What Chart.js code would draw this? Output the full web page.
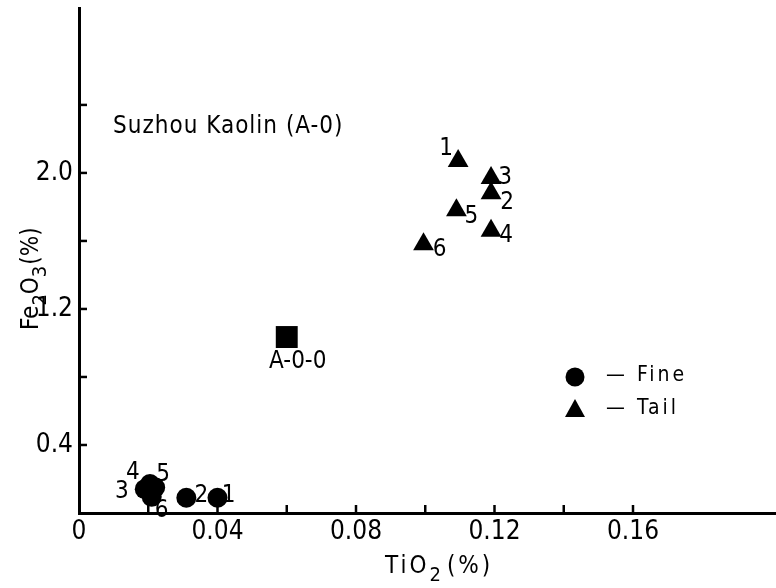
<!DOCTYPE html>
<html lang="en">
<head>
<meta charset="UTF-8">
<title>Suzhou Kaolin (A-0)</title>
<script src="https://cdn.jsdelivr.net/npm/chart.js"></script>
<style>
  body { margin: 0; background: #fff; }
  #grafico { display: block; }
</style>
</head>
<body>
<canvas id="grafico" width="776" height="588"></canvas>
<script>
// values (TiO2 %, Fe2O3 %)
var fineNames = ['1', '2', '3', '4', '5', '6'];
var fineTiO2 = [0.040, 0.031, 0.019, 0.0205, 0.022, 0.021];
var fineFe2O3 = [0.09, 0.09, 0.14, 0.17, 0.15, 0.095];

var tailNames = ['1', '2', '3', '4', '5', '6'];
var tailTiO2 = [0.1095, 0.119, 0.119, 0.119, 0.109, 0.0995];
var tailFe2O3 = [2.07, 1.88, 1.97, 1.66, 1.78, 1.58];

var rawNames = ['A-0-0'];
var rawTiO2 = [0.060];
var rawFe2O3 = [1.035];

var xTickValues = [0, 0.02, 0.04, 0.06, 0.08, 0.10, 0.12, 0.14, 0.16];
var xTickLabels = ['0', '', '0.04', '', '0.08', '', '0.12', '', '0.16'];
var yTickValues = [0.4, 0.8, 1.2, 1.6, 2.0, 2.4];
var yTickLabels = ['0.4', '', '1.2', '', '2.0', ''];

var FONT = '"DejaVu Sans Condensed", "DejaVu Sans", sans-serif';

function pontos(xs, ys) {
    var lista = [];
    for (var i = 0; i < xs.length; i++) {
        lista.push({ x: xs[i], y: ys[i] });
    }
    return lista;
}

// offsets of the little number labels next to each mark
var fineOffsets = [[11, -2], [15, -2], [-23, 3], [-17, -11], [8, -13], [10, 14]];
var tailOffsets = [[-12, -12], [16, 9], [14, 0], [15, 5], [15, 6], [16, 5]];
var rawOffsets = [[11, 25]];

function textoComIndice(ctx, partes, x, y, espaco) {
    // draws e.g. TiO + subscript 2 + (%) from a left baseline point
    var cx = x;
    ctx.letterSpacing = espaco + 'px';
    partes.forEach(function (p) {
        ctx.font = (p.sub ? '20px ' : '24px ') + FONT;
        ctx.fillText(p.t, cx, y + (p.sub ? 8 : 0));
        cx += ctx.measureText(p.t).width + (p.gap || 0);
    });
    ctx.letterSpacing = '0px';
}

var extras = {
    id: 'extras',
    afterDatasetsDraw: function (chart) {
        var ctx = chart.ctx;
        var xs = chart.scales.x, ys = chart.scales.y;
        var fundo = ys.getPixelForValue(0);
        var esquerda = xs.getPixelForValue(0);

        ctx.save();
        ctx.strokeStyle = '#000';
        ctx.fillStyle = '#000';
        ctx.lineWidth = 2.5;

        // inward tick marks
        xTickValues.forEach(function (v) {
            if (v === 0) return;
            var px = xs.getPixelForValue(v);
            ctx.beginPath();
            ctx.moveTo(px, fundo);
            ctx.lineTo(px, fundo - 8);
            ctx.stroke();
        });
        yTickValues.forEach(function (v) {
            var py = ys.getPixelForValue(v);
            ctx.beginPath();
            ctx.moveTo(esquerda, py);
            ctx.lineTo(esquerda + 8, py);
            ctx.stroke();
        });

        // point labels
        ctx.textAlign = 'center';
        ctx.textBaseline = 'middle';
        ctx.font = '24px ' + FONT;
        var grupos = [[0, fineNames, fineOffsets], [1, tailNames, tailOffsets], [2, rawNames, rawOffsets]];
        grupos.forEach(function (g) {
            var meta = chart.getDatasetMeta(g[0]);
            meta.data.forEach(function (el, i) {
                ctx.fillText(g[1][i], el.x + g[2][i][0], el.y + g[2][i][1]);
            });
        });

        // inner title
        ctx.textAlign = 'left';
        ctx.textBaseline = 'alphabetic';
        ctx.font = '24px ' + FONT;
        ctx.letterSpacing = '1px';
        ctx.fillText('Suzhou Kaolin (A-0)', 113, 133);

        // legend
        ctx.letterSpacing = '0px';
        ctx.beginPath();
        ctx.arc(575, 377, 9.5, 0, Math.PI * 2);
        ctx.fill();
        ctx.beginPath();
        ctx.moveTo(575, 399);
        ctx.lineTo(585, 417);
        ctx.lineTo(565, 417);
        ctx.closePath();
        ctx.fill();
        ctx.font = '21px ' + FONT;
        ctx.textBaseline = 'middle';
        ctx.letterSpacing = '3px';
        ctx.fillText('\u2014 Fine', 606, 376);
        ctx.fillText('\u2014 Tail', 606, 409);
        ctx.letterSpacing = '0px';

        // axis titles
        ctx.textBaseline = 'alphabetic';
        textoComIndice(ctx, [{ t: 'TiO' }, { t: '2', sub: true, gap: 3 }, { t: '(%)' }], 385, 573, 3);

        ctx.translate(38, 330);
        ctx.rotate(-Math.PI / 2);
        textoComIndice(ctx, [{ t: 'Fe' }, { t: '2', sub: true }, { t: 'O' }, { t: '3', sub: true, gap: 1 }, { t: '(%)' }], 0, 0, 0);
        ctx.restore();
    }
};

var fundoBranco = {
    id: 'fundoBranco',
    beforeDraw: function (chart) {
        var ctx = chart.ctx;
        ctx.save();
        ctx.fillStyle = '#fff';
        ctx.fillRect(0, 0, chart.width, chart.height);
        ctx.restore();
    }
};

new Chart(document.getElementById('grafico'), {
    type: 'scatter',
    data: {
        datasets: [{
            label: 'Fine',
            data: pontos(fineTiO2, fineFe2O3),
            pointStyle: 'circle',
            pointRadius: 10,
            backgroundColor: '#000',
            borderColor: '#000',
            borderWidth: 0
        }, {
            label: 'Tail',
            data: pontos(tailTiO2, tailFe2O3),
            pointStyle: 'triangle',
            pointRadius: 12,
            backgroundColor: '#000',
            borderColor: '#000',
            borderWidth: 0
        }, {
            label: 'A-0-0',
            data: pontos(rawTiO2, rawFe2O3),
            pointStyle: 'rect',
            pointRadius: 15.5,
            backgroundColor: '#000',
            borderColor: '#000',
            borderWidth: 0
        }]
    },
    options: {
        responsive: false,
        animation: false,
        devicePixelRatio: 1,
        layout: { autoPadding: false, padding: { top: 8, right: 0, left: 0, bottom: 0 } },
        plugins: {
            legend: { display: false },
            tooltip: { enabled: false },
            title: { display: false }
        },
        scales: {
            x: {
                type: 'linear',
                min: 0,
                max: 0.2013,
                afterBuildTicks: function (scale) {
                    scale.ticks = xTickValues.map(function (v) { return { value: v }; });
                },
                afterFit: function (scale) {
                    scale.height = 75;
                    scale.paddingLeft = 0;
                    scale.paddingRight = 0;
                },
                ticks: {
                    autoSkip: false,
                    maxRotation: 0,
                    padding: 4,
                    color: '#000',
                    font: { family: FONT, size: 26 },
                    callback: function (value, index) { return xTickLabels[index]; }
                },
                grid: { display: true, drawOnChartArea: false, drawTicks: false },
                border: { display: true, color: '#000', width: 3 }
            },
            y: {
                type: 'linear',
                min: 0,
                max: 2.97,
                afterBuildTicks: function (scale) {
                    scale.ticks = yTickValues.map(function (v) { return { value: v }; });
                },
                afterFit: function (scale) {
                    scale.width = 79;
                    scale.paddingTop = 0;
                    scale.paddingBottom = 0;
                },
                ticks: {
                    autoSkip: false,
                    padding: 6,
                    color: '#000',
                    font: { family: FONT, size: 26 },
                    callback: function (value, index) { return yTickLabels[index]; }
                },
                grid: { display: true, drawOnChartArea: false, drawTicks: false },
                border: { display: true, color: '#000', width: 3 }
            }
        }
    },
    plugins: [fundoBranco, extras]
});
</script>
</body>
</html>
